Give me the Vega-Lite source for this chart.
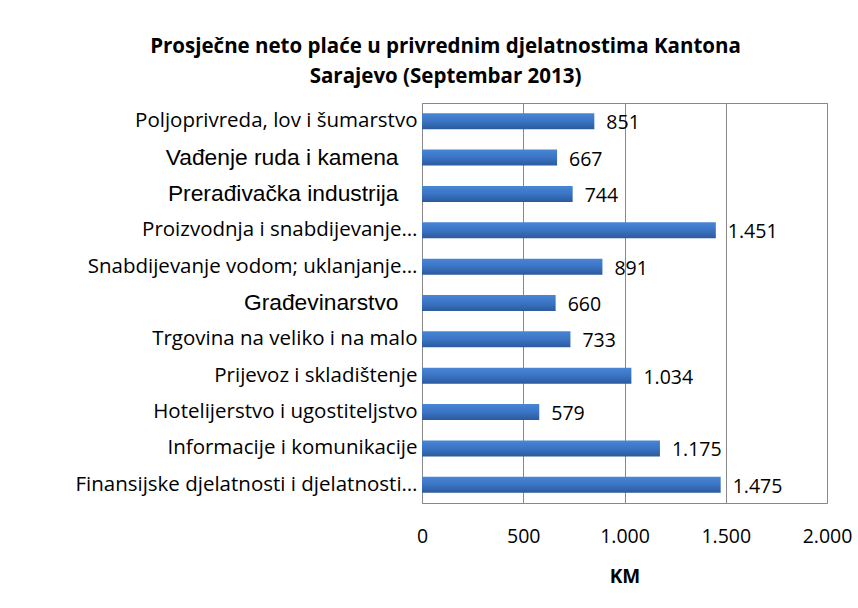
{
  "$schema": "https://vega.github.io/schema/vega-lite/v6.json",
  "width": 405,
  "height": 400,
  "autosize": "none",
  "padding": {"left": 422, "top": 103, "right": 31, "bottom": 105},
  "background": "white",
  "title": {
    "text": ["Prosječne neto plaće u privrednim djelatnostima Kantona", "Sarajevo (Septembar 2013)"],
    "font": "Open Sans",
    "fontSize": 20.5,
    "fontWeight": "bold",
    "color": "black",
    "anchor": "middle",
    "dx": -179,
    "offset": 16,
    "lineHeight": 30
  },
  "data": {
    "values": [
      {"djelatnost": "Poljoprivreda, lov i šumarstvo", "km": 851},
      {"djelatnost": "Vađenje ruda i kamena", "km": 667},
      {"djelatnost": "Prerađivačka industrija", "km": 744},
      {"djelatnost": "Proizvodnja i snabdijevanje…", "km": 1451},
      {"djelatnost": "Snabdijevanje vodom; uklanjanje…", "km": 891},
      {"djelatnost": "Građevinarstvo", "km": 660},
      {"djelatnost": "Trgovina na veliko i na malo", "km": 733},
      {"djelatnost": "Prijevoz i skladištenje", "km": 1034},
      {"djelatnost": "Hotelijerstvo i ugostiteljstvo", "km": 579},
      {"djelatnost": "Informacije i komunikacije", "km": 1175},
      {"djelatnost": "Finansijske djelatnosti i djelatnosti…", "km": 1475}
    ]
  },
  "encoding": {
    "y": {
      "field": "djelatnost",
      "type": "nominal",
      "sort": null,
      "scale": {"paddingInner": 0.56, "paddingOuter": 0.28},
      "axis": {
        "title": null,
        "ticks": false,
        "domain": true,
        "domainColor": "#888888",
        "labelPadding": 5,
        "labelColor": "black",
        "labelLimit": 420,
        "labelExpr": "indexof(['Vađenje ruda i kamena','Prerađivačka industrija','Građevinarstvo'], datum.value) >= 0 ? datum.value + '\u00a0\u00a0\u00a0\u200b' : datum.value",
        "labelFont": {"condition": {"test": "indexof(['Vađenje ruda i kamena','Prerađivačka industrija','Građevinarstvo'], datum.value) >= 0", "value": "Liberation Sans"}, "value": "Open Sans"},
        "labelFontSize": {"condition": {"test": "indexof(['Vađenje ruda i kamena','Prerađivačka industrija','Građevinarstvo'], datum.value) >= 0", "value": 22.8}, "value": 20.5}
      }
    },
    "x": {
      "field": "km",
      "type": "quantitative",
      "scale": {"domain": [0, 2000], "nice": false},
      "axis": {
        "title": "KM",
        "titleFont": "Open Sans",
        "titleFontSize": 19,
        "titleFontWeight": "bold",
        "titleColor": "black",
        "titlePadding": 22,
        "values": [0, 500, 1000, 1500, 2000],
        "labelExpr": "replace(format(datum.value, ','), ',', '.')",
        "labelFont": "Open Sans",
        "labelFontSize": 19.5,
        "labelColor": "black",
        "labelPadding": 24,
        "labelFlush": false,
        "ticks": false,
        "domain": false,
        "grid": true,
        "gridColor": "#888888",
        "gridWidth": 1
      }
    }
  },
  "layer": [
    {
      "mark": {
        "type": "bar",
        "color": {
          "gradient": "linear",
          "x1": 0, "y1": 0, "x2": 0, "y2": 1,
          "stops": [
            {"offset": 0, "color": "#4a86d6"},
            {"offset": 0.5, "color": "#3a74c4"},
            {"offset": 1, "color": "#2c5a9c"}
          ]
        }
      }
    },
    {
      "mark": {"type": "text", "align": "left", "dx": 12, "font": "Open Sans", "fontSize": 19.5, "color": "black", "baseline": "middle", "dy": 2},
      "encoding": {
        "text": {"field": "km", "type": "quantitative", "format": ","}
      }
    }
  ],
  "config": {
    "view": {"stroke": "#888888", "strokeWidth": 1},
    "locale": {"number": {"decimal": ",", "thousands": ".", "grouping": [3], "currency": ["", " KM"]}}
  }
}
